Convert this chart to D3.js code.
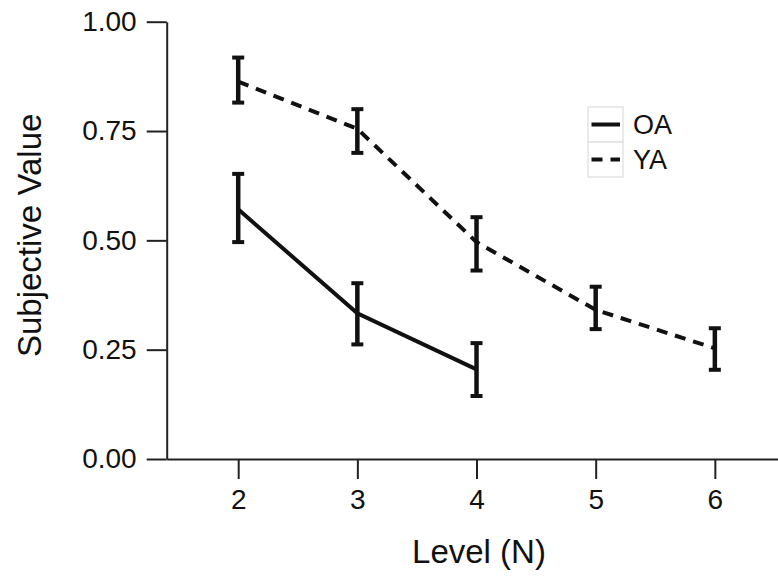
<!DOCTYPE html>
<html>
<head>
<meta charset="utf-8">
<script src="https://cdn.jsdelivr.net/npm/d3@7"></script>
<style>
  body { margin: 0; background: #fff; }
  svg { display: block; font-family: "Liberation Sans", Arial, sans-serif; }
</style>
</head>
<body>
<div id="chart"></div>
<script>
// Data
const levels = [2, 3, 4, 5, 6];
const oaLevels = [2, 3, 4];
const oaMean = [0.571, 0.333, 0.205];
const oaLow = [0.496, 0.262, 0.144];
const oaHigh = [0.652, 0.402, 0.265];
const yaLevels = [2, 3, 4, 5, 6];
const yaMean = [0.863, 0.755, 0.496, 0.341, 0.253];
const yaLow = [0.815, 0.700, 0.431, 0.297, 0.204];
const yaHigh = [0.918, 0.800, 0.553, 0.394, 0.299];
const yTicks = [0, 0.25, 0.5, 0.75, 1];
const groupNames = ['OA', 'YA'];

const width = 778, height = 579;
const ink = '#111';

const svg = d3.select('#chart')
  .append('svg')
  .attr('width', width)
  .attr('height', height);

// Scales
const xScale = d3.scaleLinear()
  .domain([1.4, 6.53])
  .range([166.7, 778]);

const yScale = d3.scaleLinear()
  .domain([0, 1])
  .range([459, 21.7]);

// Axes
const xAxis = svg.append('g')
  .attr('transform', `translate(0,${yScale(0)})`)
  .call(d3.axisBottom(xScale).tickValues(levels).tickFormat(d3.format('d'))
    .tickSize(20).tickSizeOuter(0).tickPadding(10));

const yAxis = svg.append('g')
  .attr('transform', `translate(${xScale(1.4)},0)`)
  .call(d3.axisLeft(yScale).tickValues(yTicks).tickFormat(d3.format('.2f'))
    .tickSize(20).tickSizeOuter(0).tickPadding(10));

[xAxis, yAxis].forEach(function(g) {
  g.selectAll('path, line').attr('stroke', '#222').attr('stroke-width', 2);
  g.selectAll('text').attr('fill', ink).style('font-size', '28px');
});

// Axis titles
svg.append('text')
  .attr('x', 479)
  .attr('y', 563)
  .attr('text-anchor', 'middle')
  .attr('fill', ink)
  .style('font-size', '33px')
  .text('Level (N)');

svg.append('text')
  .attr('transform', `translate(41,${yScale(0.5) - 5}) rotate(-90)`)
  .attr('text-anchor', 'middle')
  .attr('fill', ink)
  .style('font-size', '33px')
  .text('Subjective Value');

// Series
const series = [
  { name: groupNames[0], x: oaLevels, mean: oaMean, low: oaLow, high: oaHigh, dash: null },
  { name: groupNames[1], x: yaLevels, mean: yaMean, low: yaLow, high: yaHigh, dash: '11,8' }
];

const line = d3.line()
  .x(d => xScale(d[0]))
  .y(d => yScale(d[1]));

series.forEach(function(s) {
  const pts = s.x.map((v, i) => [v, s.mean[i]]);
  svg.append('path')
    .attr('d', line(pts))
    .attr('fill', 'none')
    .attr('stroke', ink)
    .attr('stroke-width', 4)
    .attr('stroke-dasharray', s.dash);

  // Error bars
  const bars = svg.append('g');
  s.x.forEach(function(v, i) {
    const cx = xScale(v);
    bars.append('line')
      .attr('x1', cx).attr('x2', cx)
      .attr('y1', yScale(s.low[i])).attr('y2', yScale(s.high[i]))
      .attr('stroke', ink).attr('stroke-width', 4.5);
    [s.low[i], s.high[i]].forEach(function(e) {
      bars.append('line')
        .attr('x1', cx - 6).attr('x2', cx + 6)
        .attr('y1', yScale(e)).attr('y2', yScale(e))
        .attr('stroke', ink).attr('stroke-width', 4);
    });
  });
});

// Legend
const legend = svg.append('g').attr('transform', 'translate(588,107)');
series.forEach(function(s, i) {
  const row = legend.append('g').attr('transform', `translate(0,${i * 35})`);
  row.append('rect')
    .attr('width', 35).attr('height', 35)
    .attr('fill', '#fff')
    .attr('stroke', '#ddd')
    .attr('stroke-width', 1.2);
  row.append('line')
    .attr('x1', 3.5).attr('x2', 32)
    .attr('y1', 17.5).attr('y2', 17.5)
    .attr('stroke', ink).attr('stroke-width', 4)
    .attr('stroke-dasharray', s.dash);
  row.append('text')
    .attr('x', 45).attr('y', 27)
    .attr('fill', ink)
    .style('font-size', '27px')
    .text(s.name);
});
</script>
</body>
</html>
